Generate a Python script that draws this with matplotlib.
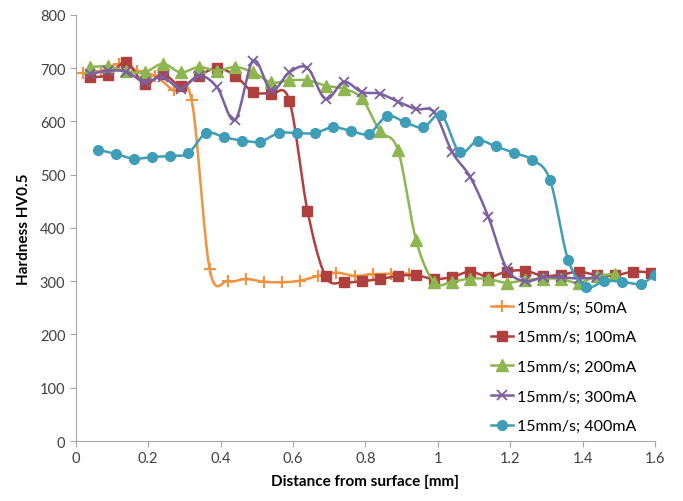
import numpy as np
import matplotlib
matplotlib.use("Agg")
from matplotlib import pyplot as plt

# hardness profiles, 15 mm/s at five beam currents
x50 = [0.02, 0.07, 0.12, 0.17, 0.22, 0.27, 0.32, 0.37, 0.42, 0.47, 0.52, 0.57,
       0.62, 0.67, 0.72, 0.77, 0.82, 0.87, 0.92]
hv50 = [690, 695, 708, 695, 685, 658, 640, 322, 300, 304, 299, 298,
        301, 310, 316, 310, 313, 314, 314]

x100 = [0.04, 0.09, 0.14, 0.19, 0.24, 0.29, 0.34, 0.39, 0.44, 0.49, 0.54, 0.59,
        0.64, 0.69, 0.74, 0.79, 0.84, 0.89, 0.94, 0.99, 1.04, 1.09, 1.14, 1.19,
        1.24, 1.29, 1.34, 1.39, 1.44, 1.49, 1.54, 1.59]
hv100 = [683, 687, 711, 670, 689, 667, 686, 700, 686, 655, 652, 639,
         432, 309, 298, 300, 304, 310, 311, 304, 308, 318, 308, 318,
         320, 310, 312, 318, 311, 311, 318, 316]

x200 = [0.04, 0.09, 0.14, 0.19, 0.24, 0.29, 0.34, 0.39, 0.44, 0.49, 0.54, 0.59,
        0.64, 0.69, 0.74, 0.79, 0.84, 0.89, 0.94, 0.99, 1.04, 1.09, 1.14, 1.19,
        1.24, 1.29, 1.34, 1.39, 1.44, 1.49]
hv200 = [702, 703, 694, 692, 708, 692, 702, 695, 702, 692, 673, 677,
         677, 667, 661, 643, 582, 546, 377, 298, 299, 305, 304, 297,
         302, 305, 304, 297, 310, 313]

x300 = [0.04, 0.09, 0.14, 0.19, 0.24, 0.29, 0.34, 0.39, 0.44, 0.49, 0.54, 0.59,
        0.64, 0.69, 0.74, 0.79, 0.84, 0.89, 0.94, 0.99, 1.04, 1.09, 1.14, 1.19,
        1.24, 1.29, 1.34, 1.39, 1.44]
hv300 = [689, 695, 693, 674, 683, 661, 686, 664, 603, 714, 658, 692,
         700, 642, 674, 655, 652, 637, 623, 617, 542, 495, 420, 324,
         300, 307, 307, 305, 307]

x400 = [0.06, 0.11, 0.16, 0.21, 0.26, 0.31, 0.36, 0.41, 0.46, 0.51, 0.56, 0.61,
        0.66, 0.71, 0.76, 0.81, 0.86, 0.91, 0.96, 1.01, 1.06, 1.11, 1.16, 1.21,
        1.26, 1.31, 1.36, 1.41, 1.46, 1.51, 1.56, 1.60]
hv400 = [547, 539, 530, 533, 535, 540, 578, 570, 564, 562, 578, 578,
         578, 589, 582, 577, 610, 598, 589, 612, 542, 564, 553, 541,
         528, 490, 340, 290, 300, 299, 295, 312]

labels = ["15mm/s; 50mA", "15mm/s; 100mA", "15mm/s; 200mA",
          "15mm/s; 300mA", "15mm/s; 400mA"]


def smooth(x, y, n=16):
    # catmull-rom curve through the points, like excel's smoothed line
    x = np.asarray(x, float)
    y = np.asarray(y, float)
    xs, ys = [], []
    for i in range(len(x) - 1):
        i0 = max(i - 1, 0)
        i3 = min(i + 2, len(x) - 1)
        t = np.linspace(0, 1, n, endpoint=False)
        for a, out in ((x, xs), (y, ys)):
            p0, p1, p2, p3 = a[i0], a[i], a[i + 1], a[i3]
            c1 = p1 + (p2 - p0) / 6
            c2 = p2 - (p3 - p1) / 6
            out.extend((1 - t) ** 3 * p1 + 3 * (1 - t) ** 2 * t * c1
                       + 3 * (1 - t) * t ** 2 * c2 + t ** 3 * p2)
    xs.append(x[-1])
    ys.append(y[-1])
    return xs, ys


plt.rcParams['font.family'] = ['Lato', 'DejaVu Sans']

fig = plt.figure(figsize=(6.83, 5.02), dpi=100)
ax = fig.add_axes([0.111, 0.1195, 0.848, 0.849])

series = [
    (x50, hv50, "#F0923E", "+", 9, 1.5),
    (x100, hv100, "#B0403D", "s", 7, 1),
    (x200, hv200, "#8DB550", "^", 8, 1),
    (x300, hv300, "#7B5FA0", "x", 7, 1.3),
    (x400, hv400, "#3E9DB7", "o", 7, 1),
]

for (xs, ys, col, mk, ms, mew), lab in zip(series, labels):
    sx, sy = smooth(xs, ys)
    ax.plot(sx, sy, color=col, lw=1.8)
    ax.plot(xs, ys, ls="none", marker=mk, ms=ms, color=col, mec=col, mew=mew)
    ax.plot([], [], color=col, lw=1.8, marker=mk, ms=ms, mec=col, mew=mew, label=lab)

ax.set_xlim(0, 1.6)
ax.set_ylim(0, 800)
ax.set_xticks(np.arange(0, 1.61, 0.2))
ax.set_xticklabels(["0", "0.2", "0.4", "0.6", "0.8", "1", "1.2", "1.4", "1.6"])
ax.set_yticks(range(0, 801, 100))

for s in ["top", "right"]:
    ax.spines[s].set_visible(False)
for s in ["left", "bottom"]:
    ax.spines[s].set_color("#A6A6A6")
ax.tick_params(colors="#A6A6A6", labelcolor="#404040", labelsize=10.5, length=4)

ax.set_xlabel("Distance from surface [mm]", fontsize=11, fontweight="bold", labelpad=6)
ax.set_ylabel("Hardness HV0.5", fontsize=11, fontweight="bold", labelpad=6)

ax.legend(loc="upper left", bbox_to_anchor=(0.705, 0.345), borderaxespad=0,
          frameon=False, fontsize=11.5, handlelength=1.4, handletextpad=0.25,
          labelspacing=0.97)

fig.savefig("out.png", dpi=100)
